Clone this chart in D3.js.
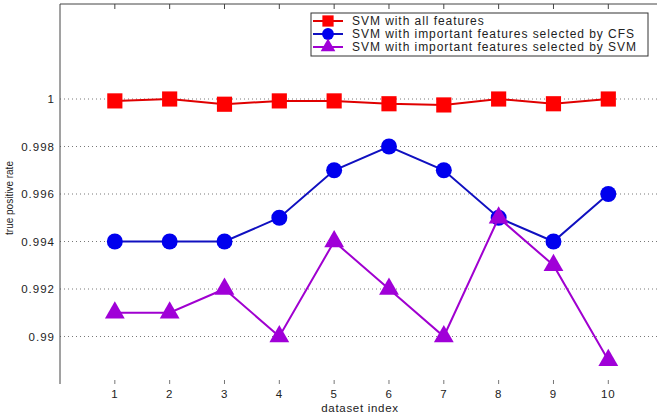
<!DOCTYPE html>
<html><head><meta charset="utf-8">
<script src="https://cdn.jsdelivr.net/npm/d3@7"></script>
<style>body{margin:0;background:#fff}svg{display:block}text{font-family:Arial,"Liberation Sans",Helvetica,sans-serif}</style>
</head><body>
<svg id="c" width="657" height="418"></svg>
<script>
const datasetIndex = [1,2,3,4,5,6,7,8,9,10];
const svmAll = [0.99992,1.0,0.99978,0.99992,0.99992,0.9998,0.99975,1.0,0.9998,1.0];
const svmCFS = [0.994,0.994,0.994,0.995,0.997,0.998,0.997,0.995,0.994,0.996];
const svmSVM = [0.991,0.991,0.992,0.990,0.994,0.992,0.990,0.995,0.993,0.989];
const yTicks = [0.99,0.992,0.994,0.996,0.998,1];
const seriesNames = ["SVM with all features","SVM with important features selected by CFS","SVM with important features selected by SVM"];

const svg = d3.select("#c");
const L = 60, T = 4, B = 384;
const x = d3.scaleLinear().domain([0,11]).range([L, L + 11*54.83]);
const y = d3.scaleLinear().domain([0.988,1.004]).range([B, T]);

// grid
svg.append("g").selectAll("line").data(yTicks).join("line")
  .attr("x1",L).attr("x2",657).attr("y1",d=>y(d)).attr("y2",d=>y(d))
  .attr("stroke","#555").attr("stroke-width",0.8).attr("stroke-dasharray","1,3");

// frame: left and top
svg.append("line").attr("x1",L).attr("x2",L).attr("y1",T).attr("y2",B).attr("stroke","#444").attr("stroke-width",1);
svg.append("line").attr("x1",L).attr("x2",657).attr("y1",T).attr("y2",T).attr("stroke","#444").attr("stroke-width",1);

// x ticks (top & bottom inward)
const xt = svg.append("g");
xt.selectAll(".tb").data(datasetIndex).join("line")
  .attr("x1",d=>x(d)).attr("x2",d=>x(d)).attr("y1",B).attr("y2",B-4).attr("stroke","#777");
xt.selectAll(".tt").data(datasetIndex).join("line")
  .attr("x1",d=>x(d)).attr("x2",d=>x(d)).attr("y1",T).attr("y2",T+5).attr("stroke","#444");
xt.selectAll("text").data(datasetIndex).join("text")
  .attr("x",d=>x(d)).attr("y",B+14).attr("text-anchor","middle")
  .attr("font-size",11.5).attr("letter-spacing",0.8).attr("fill","#222").text(d=>d);

// y ticks
const yt = svg.append("g");
yt.selectAll("text").data(yTicks).join("text")
  .attr("x",L-5).attr("y",d=>y(d)+4).attr("text-anchor","end")
  .attr("font-size",11.5).attr("letter-spacing",1).attr("fill","#222").text(d=>d3.format("")(d));

// labels
svg.append("text").attr("x",360).attr("y",412).attr("text-anchor","middle").attr("font-size",11.5).attr("letter-spacing",0.7).attr("fill","#222").text("dataset index");
svg.append("text").attr("transform","translate(13,198) rotate(-90)").attr("text-anchor","middle").attr("font-size",10).attr("fill","#222").text("true positive rate");

const line = d3.line().x((d,i)=>x(datasetIndex[i])).y(d=>y(d));
const cfg = [
  {data:svmAll, color:"#ff0000", lc:"#e00000", shape:d3.symbolSquare, size:230},
  {data:svmCFS, color:"#0000ee", lc:"#1010c0", shape:d3.symbolCircle, size:200},
  {data:svmSVM, color:"#a000d8", lc:"#a000d0", shape:d3.symbolTriangle, size:170}
];
cfg.forEach(c=>{
  svg.append("path").datum(c.data).attr("d",line).attr("fill","none").attr("stroke",c.lc).attr("stroke-width",2);
  svg.append("g").selectAll("path").data(c.data).join("path")
    .attr("transform",(d,i)=>`translate(${x(datasetIndex[i])},${y(d)})`)
    .attr("d",d3.symbol().type(c.shape).size(c.size)).attr("fill",c.color);
});

// legend
const lg = svg.append("g");
lg.append("rect").attr("x",311).attr("y",13).attr("width",337).attr("height",43).attr("fill","#fff").attr("stroke","#333").attr("stroke-width",1);
const rows = [21,34,47];
cfg.forEach((c,i)=>{
  lg.append("line").attr("x1",313).attr("x2",343).attr("y1",rows[i]).attr("y2",rows[i]).attr("stroke",c.lc).attr("stroke-width",2);
  lg.append("path").attr("transform",`translate(328,${rows[i]})`).attr("d",d3.symbol().type(c.shape).size(c.size*0.55)).attr("fill",c.color);
  lg.append("text").attr("x",352).attr("y",rows[i]+4).attr("font-size",12).attr("letter-spacing",0.95).attr("fill","#222").text(seriesNames[i]);
});
</script>
</body></html>
